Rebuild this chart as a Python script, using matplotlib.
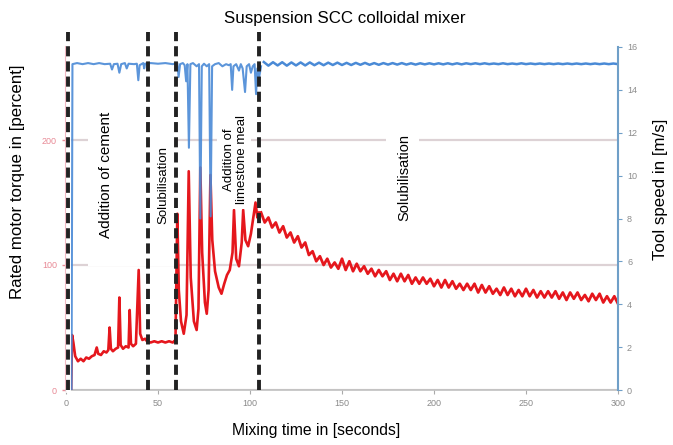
import numpy as np
import matplotlib
matplotlib.use('Agg')
import matplotlib.pyplot as plt
from matplotlib.patches import Rectangle

plt.rcParams['font.family'] = ['Liberation Sans', 'DejaVu Sans']

# torque [percent], mixing phase 0..105 s
t_torque = [0, 2.8, 3.3, 4.0, 5.0, 6.5, 8, 9.5, 11, 12.5,
            14, 15.5, 16.7, 17.5, 19, 20.5, 22, 23, 23.7, 24.4,
            25.5, 27, 28.3, 29, 29.7, 31, 32.5, 34, 34.6, 35.3,
            36.5, 38, 39.5, 40.3, 41.5, 43, 44, 46, 48, 50,
            52, 54, 56, 58, 59.5, 60.5, 61.3, 62.5, 64, 65.5,
            66.7, 67.8, 69.5, 71, 72, 73, 74, 75.5, 76.5, 77.5,
            78.5, 79.5, 81, 83, 84.5, 86, 87.5, 89, 90.5, 91.3,
            92.5, 94, 95.5, 96.3, 97.5, 99, 100.5, 101.5, 103, 104,
            105]
torque = [0, 0, 44, 38, 27, 23, 25, 23, 26, 25,
          27, 28, 34, 29, 28, 31, 30, 32, 50, 33,
          31, 33, 34, 74, 36, 33, 35, 34, 64, 37,
          35, 37, 96, 45, 40, 41, 39, 38, 39, 38,
          39, 38, 39, 38, 40, 141, 80, 55, 45, 60,
          175, 90, 55, 48, 65, 178, 110, 70, 61, 80,
          172, 120, 95, 82, 77, 85, 92, 96, 110, 144,
          105, 99, 118, 144, 120, 115, 125, 135, 150, 138,
          142]

# torque after last addition, sampled every 2 s from 106 to 300 s
t_torque_tail = np.arange(106, 301, 2)
torque_tail = [142, 134, 138, 130, 134, 126, 131, 122, 126, 118,
               123, 114, 118, 108, 111, 103, 107, 100, 105, 98,
               102, 97, 105, 96, 103, 95, 101, 95, 99, 93,
               97, 91, 96, 91, 95, 88, 93, 87, 93, 87,
               92, 85, 90, 85, 90, 85, 89, 83, 88, 82,
               88, 82, 87, 81, 85, 80, 85, 80, 85, 78,
               84, 78, 83, 77, 81, 76, 82, 76, 81, 75,
               80, 75, 81, 75, 80, 74, 79, 74, 79, 74,
               79, 73, 78, 72, 78, 73, 78, 72, 76, 71,
               77, 72, 77, 70, 75, 70, 75, 69]

# tool speed [m/s], 0..106 s
t_speed = [0, 3.0, 3.5, 6, 9, 12, 15, 18, 21, 24,
           25, 26, 28, 29, 30, 32, 33, 34, 37, 38.5,
           39.3, 40, 42, 42.5, 43, 46, 50, 54, 58, 60.5,
           61.2, 62, 63.5, 64.5, 65.3, 66, 66.8, 67.6, 69, 71,
           72.3, 73, 73.8, 75, 76.5, 77.8, 78.6, 79.4, 81, 83,
           85, 87, 88.5, 89.5, 90.3, 91, 92.5, 94, 95, 96,
           97.3, 98.2, 99.5, 100.5, 101.5, 102.5, 103.3, 104, 105, 106]
speed = [0, 0, 15.2, 15.25, 15.2, 15.25, 15.2, 15.25, 15.2, 15.22,
         14.95, 15.2, 15.22, 14.8, 15.2, 15.25, 15.0, 15.22, 15.2, 15.22,
         14.45, 15.15, 15.25, 15.0, 15.22, 15.25, 15.22, 15.25, 15.2, 15.25,
         14.6, 15.2, 15.25, 15.15, 14.4, 15.2, 11.3, 15.2, 15.25, 15.1,
         15.2, 8.0, 15.1, 15.22, 15.1, 15.2, 8.1, 15.1, 15.2, 15.25,
         15.1, 15.2, 15.15, 15.2, 14.0, 15.1, 15.2, 14.9, 15.2, 15.0,
         13.9, 15.1, 15.2, 14.8, 15.1, 15.2, 13.8, 15.0, 14.6, 15.1]

# tool speed tail, every 2.5 s from 107.5 to 300 s
t_speed_tail = np.arange(107.5, 300.1, 2.5)
speed_tail = [15.3, 15.13, 15.29, 15.14, 15.29, 15.13, 15.28, 15.14, 15.28, 15.14,
              15.28, 15.15, 15.27, 15.15, 15.27, 15.16, 15.27, 15.16, 15.26, 15.16,
              15.26, 15.17, 15.26, 15.17, 15.25, 15.17, 15.25, 15.18, 15.25, 15.18,
              15.25, 15.18, 15.24, 15.18, 15.24, 15.19, 15.24, 15.19, 15.24, 15.19,
              15.24, 15.19, 15.24, 15.19, 15.24, 15.2, 15.24, 15.2, 15.24, 15.2,
              15.23, 15.2, 15.24, 15.2, 15.23, 15.2, 15.24, 15.2, 15.23, 15.2,
              15.23, 15.2, 15.23, 15.2, 15.23, 15.2, 15.23, 15.2, 15.23, 15.2,
              15.23, 15.2, 15.23, 15.2, 15.23, 15.2, 15.23, 15.2]

phase_lines = [1.1, 44.4, 60, 105]

x_ticks = [0, 50, 100, 150, 200, 250, 300]
torque_ticks = [0, 100, 200]
speed_ticks = [0, 2, 4, 6, 8, 10, 12, 14, 16]

fig = plt.figure(figsize=(6.73, 4.45), dpi=100)
ax1 = fig.add_axes([66/673, 1-390/445, 552/673, 343/445])
ax2 = ax1.twinx()

ax1.plot(t_torque, torque, color='#e5171d', lw=1.9, zorder=3)
ax1.plot(t_torque_tail, torque_tail, color='#e5171d', lw=2.0, zorder=3)
ax1.set_xlim(0, 300)
ax1.set_ylim(0, 274.4)
ax1.set_xticks(x_ticks)
ax1.set_yticks(torque_ticks)
ax1.yaxis.grid(True, color='#ddd2d5', lw=1.6)
ax1.set_axisbelow(True)
ax1.tick_params(axis='y', colors='#e88a96', labelsize=6.5, length=3, width=1)
ax1.tick_params(axis='x', colors='#aaaaaa', labelcolor='#8a8a8a', labelsize=6.5, length=3)
for s in ['top', 'right']:
    ax1.spines[s].set_visible(False)
ax1.spines['left'].set_color('#efb8c2')
ax1.spines['left'].set_linewidth(1.5)
ax1.spines['bottom'].set_color('#c0c0c0')
ax1.spines['bottom'].set_linewidth(1.2)

ax2.plot(t_speed, speed, color='#4a8ad6', lw=1.5, alpha=0.9, zorder=2)
ax2.plot(t_speed_tail, speed_tail, color='#4a8ad6', lw=1.8, zorder=2)
ax2.set_ylim(0, 16)
ax2.set_yticks(speed_ticks)
ax2.tick_params(axis='y', colors='#6f9fc8', labelcolor='#8c8c8c', labelsize=6.5, length=3)
for s in ['top', 'left', 'bottom']:
    ax2.spines[s].set_visible(False)
ax2.spines['right'].set_color('#6f9fc8')
ax2.spines['right'].set_linewidth(1.5)

# white boxes behind the phase labels
boxes = [(12, 99, 32, 126), (45.5, 99, 14, 111), (82, 145, 18.5, 83), (174, 150, 18, 75)]
for (bx, by, bw, bh) in boxes:
    ax2.add_patch(Rectangle((bx, by), bw, bh, transform=ax1.transData,
                            facecolor='white', edgecolor='none', zorder=5))

# phase boundaries
ax2.axvline(phase_lines[0], ymin=0, ymax=1.044, color='white', lw=3.5,
            clip_on=False, zorder=6)
for x in phase_lines:
    ax2.axvline(x, ymin=0, ymax=1.044, color='#222222', lw=2.8,
                linestyle=(0, (2.6, 1.3)), clip_on=False, zorder=7)

ax2.text(22, 172, 'Addition of cement', rotation=90, ha='center', va='center',
         fontsize=11, transform=ax1.transData, zorder=8)
ax2.text(53, 164, 'Solubilisation', rotation=90, ha='center', va='center',
         fontsize=9.5, transform=ax1.transData, zorder=8)
ax2.text(92, 184, 'Addition of\nlimestone meal', rotation=90, ha='center',
         va='center', multialignment='center', fontsize=9.5,
         linespacing=1.1, transform=ax1.transData, zorder=8)
ax2.text(184, 170, 'Solubilisation', rotation=90, ha='center', va='center',
         fontsize=10.5, transform=ax1.transData, zorder=8)

fig.text(345/673, 1-18/445, 'Suspension SCC colloidal mixer', ha='center',
         va='center', fontsize=12.2)
fig.text(316/673, 1-430/445, 'Mixing time in [seconds]', ha='center',
         va='center', fontsize=11.3)
fig.text(18/673, 1-182/445, 'Rated motor torque in [percent]', rotation=90,
         ha='center', va='center', fontsize=12.2)
fig.text(661/673, 1-189/445, 'Tool speed in [m/s]', rotation=90,
         ha='center', va='center', fontsize=12.2)

plt.savefig('out.png', dpi=100)
